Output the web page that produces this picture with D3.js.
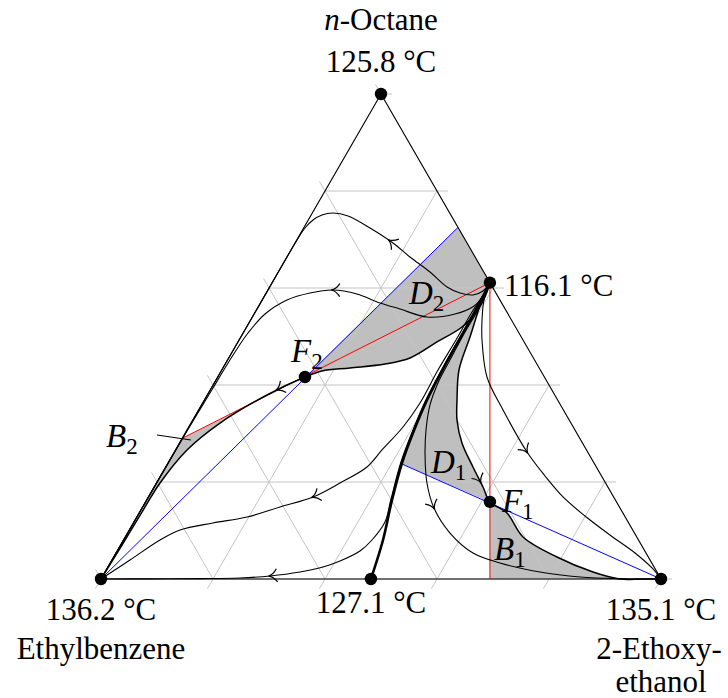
<!DOCTYPE html>
<html>
<head>
<meta charset="utf-8">
<script src="https://cdn.jsdelivr.net/npm/d3@7"></script>
<style>
  body { margin: 0; background: #fff; }
  svg { display: block; }
  text { font-family: "Liberation Serif", "Times New Roman", serif; fill: #000; }
</style>
</head>
<body>
<svg id="chart" width="728" height="698"></svg>
<script>
// Compositions are mole fractions [x(2-ethoxyethanol), x(n-octane)];
// ethylbenzene makes up the rest.

const gridFractions = [0, 0.2, 0.4, 0.6, 0.8, 1];

const componentNames = ["Ethylbenzene", "n-Octane", "2-Ethoxyethanol"];
const componentBoiling = ["136.2 °C", "125.8 °C", "135.1 °C"];
const componentComp = [[0, 0], [0, 1], [1, 0]];

const azeotropeBoiling = ["116.1 °C", "127.1 °C"];
const azeotropeComp = [[0.389, 0.611], [0.482, 0]];

const feedNames = ["F1", "F2"];
const feedComp = [[0.615, 0.159], [0.156, 0.4165]];

// mass-balance lines (blue) and distillate/bottoms lines (red)
const balanceLines = [
  [[0, 0], [0.275, 0.725]],
  [[1, 0], [0.419, 0.237]]
];
const productLines = [
  [[0, 0.29], [0.389, 0.611]],
  [[0.389, 0.611], [0.6945, 0]]
];

// distillation boundaries, listed in the direction of rising temperature
const boundaryAzeo = [[0.389, 0.611], [0.392, 0.5588], [0.3931, 0.5031], [0.3937, 0.4412],
  [0.3976, 0.3691], [0.4066, 0.301], [0.4179, 0.2392], [0.4382, 0.1629], [0.4634, 0.0804], [0.482, 0]];
const boundaryToEthoxy = [[0.389, 0.611], [0.3914, 0.5814], [0.4094, 0.499], [0.4238, 0.4309],
  [0.4512, 0.3691], [0.4718, 0.3278], [0.5044, 0.2804], [0.5488, 0.2309], [0.5873, 0.1897],
  [0.615, 0.159], [0.657, 0.1361], [0.7103, 0.0866], [0.7916, 0.0454], [0.8714, 0.0144],
  [0.9268, 0], [0.965, 0], [1, 0]];
const boundaryToEthyl = [[0.389, 0.611], [0.3934, 0.5918], [0.3959, 0.5546], [0.3848, 0.5196],
  [0.3557, 0.4887], [0.324, 0.4557], [0.2855, 0.4433], [0.2271, 0.4351], [0.1802, 0.4289],
  [0.156, 0.4165], [0.1067, 0.3794], [0.0517, 0.3216], [0.0206, 0.266], [0.0064, 0.1979],
  [0.0044, 0.1485], [0.0025, 0.0701], [0, 0]];

// residue curves
const residueA = [[0.389, 0.611], [0.3852, 0.5938], [0.3715, 0.5856], [0.3463, 0.5897],
  [0.3169, 0.602], [0.271, 0.633], [0.2198, 0.6639], [0.175, 0.6928], [0.1185, 0.7237],
  [0.0669, 0.7485], [0.037, 0.7546], [0.0193, 0.7505], [0.0085, 0.7402], [0.0024, 0.7237],
  [0.0008, 0.7052], [0.0005, 0.55], [0.0003, 0.35], [0.0002, 0.15], [0, 0]];
const residueB = [[0.389, 0.611], [0.3903, 0.5835], [0.3847, 0.5629], [0.3589, 0.5464],
  [0.312, 0.5402], [0.2555, 0.5567], [0.2137, 0.5691], [0.1633, 0.5876], [0.1164, 0.5959],
  [0.0784, 0.5897], [0.0445, 0.5753], [0.0197, 0.5464], [0.0089, 0.5072], [0.0053, 0.468],
  [0.0039, 0.435], [0.0031, 0.3938], [0.001, 0.3], [0.0005, 0.15], [0, 0]];
const residueC = [[0.389, 0.611], [0.3901, 0.5876], [0.3872, 0.5505], [0.3875, 0.4928],
  [0.3863, 0.4309], [0.3882, 0.3629], [0.3826, 0.3134], [0.3688, 0.266], [0.3595, 0.2309],
  [0.3278, 0.1979], [0.2941, 0.1691], [0.2454, 0.1485], [0.1968, 0.1278], [0.1423, 0.1155],
  [0.0906, 0.101], [0.0652, 0.0804], [0.0322, 0.0392], [0, 0]];
const residueD = [[0.389, 0.611], [0.3905, 0.5588], [0.3915, 0.5031], [0.3925, 0.4412],
  [0.3955, 0.3691], [0.4045, 0.301], [0.4155, 0.2392], [0.436, 0.1629], [0.4483, 0.1175],
  [0.4437, 0.0804], [0.4336, 0.0577], [0.4082, 0.0371], [0.384, 0.0247], [0.3482, 0.0144],
  [0.2987, 0.0062], [0.2472, 0.0021], [0.177, 0.0008], [0.0875, 0.0003], [0, 0]];
const residueE = [[0.389, 0.611], [0.3929, 0.5856], [0.3959, 0.5546], [0.3954, 0.5093],
  [0.3974, 0.4515], [0.3997, 0.4041], [0.4081, 0.3588], [0.4268, 0.3072], [0.4508, 0.2557],
  [0.4831, 0.1979], [0.5214, 0.1464], [0.5758, 0.0948], [0.6375, 0.0536], [0.696, 0.033],
  [0.7767, 0.0144], [0.8533, 0.0041], [0.927, 0.0005], [1, 0]];
const residueG = [[0.389, 0.611], [0.3963, 0.5753], [0.4134, 0.534], [0.434, 0.4928],
  [0.481, 0.4165], [0.5437, 0.3485], [0.6298, 0.2619], [0.6867, 0.2124], [0.7405, 0.1691],
  [0.7993, 0.1299], [0.8635, 0.0907], [0.9268, 0.0536], [0.9726, 0.0227], [1, 0]];

// where each curve carries its direction arrow
const arrowAt = [
  ["residueA", [0.1666, 0.699]],
  ["residueB", [0.1164, 0.5959]],
  ["residueC", [0.2941, 0.1691]],
  ["residueD", [0.2987, 0.0062]],
  ["residueE", [0.5214, 0.1464]],
  ["residueG", [0.6298, 0.2619]],
  ["boundaryToEthoxy", [0.5742, 0.1979]],
  ["boundaryToEthyl", [0.1195, 0.3897]]
];

// ---------- scales & projection ----------
const svg = d3.select("#chart");
const xs = d3.scaleLinear().domain([0, 1]).range([101, 661]);
const ys = d3.scaleLinear().domain([0, 1]).range([579, 94]);
const P = c => [xs(c[0] + c[1] / 2), ys(c[1])];

const smooth = d3.line().x(d => P(d)[0]).y(d => P(d)[1]).curve(d3.curveCatmullRom.alpha(0.5));
const straight = d3.line().x(d => P(d)[0]).y(d => P(d)[1]);
const region = parts => parts.map((p, i) => {
  const s = (p.smooth ? smooth : straight)(p.pts);
  return i ? s.replace(/^M/, "L") : s;
}).join("") + "Z";

const F1 = feedComp[0], F2 = feedComp[1], A1 = azeotropeComp[0];
const idx = (arr, c) => arr.findIndex(d => d[0] === c[0] && d[1] === c[1]);

// ---------- shaded regions ----------
const gEth = boundaryToEthyl, gEto = boundaryToEthoxy;
const iF2 = idx(gEth, F2), iF1 = idx(gEto, F1);
const iBal2 = idx(boundaryAzeo, [0.4179, 0.2392]);
const shade = "#bfbfbf";

const regions = [
  // D2
  region([{ pts: [F2, balanceLines[0][1], A1] }, { pts: gEth.slice(0, iF2 + 1), smooth: true }]),
  // B2
  region([{ pts: [productLines[0][0], F2] }, { pts: gEth.slice(iF2, iF2 + 6), smooth: true }, { pts: [[0, 0.1485]] }]),
  // D1
  region([{ pts: [balanceLines[1][1], F1] }, { pts: gEto.slice(0, iF1 + 1).reverse(), smooth: true },
          { pts: boundaryAzeo.slice(0, iBal2 + 1), smooth: true }]),
  // B1
  region([{ pts: [F1, productLines[1][1], [0.9268, 0]] }, { pts: gEto.slice(iF1, 15).reverse(), smooth: true }])
];
svg.append("g").selectAll("path").data(regions).join("path")
  .attr("d", d => d).attr("fill", shade).attr("stroke", "none");

// ---------- grid with ticks ----------
const tick = 11;
const unit = (a, b) => { const l = Math.hypot(b[0] - a[0], b[1] - a[1]); return [(b[0] - a[0]) / l, (b[1] - a[1]) / l]; };
const dirO = [1, 0];
const dirE = unit(P([1, 0]), P([0, 1]));
const dirX = unit(P([0, 1]), P([0, 0]));
const gridSegs = [];
gridFractions.forEach(f => {
  gridSegs.push([P([0, f]), P([1 - f, f]), dirO]);
  gridSegs.push([P([1 - f, 0]), P([0, 1 - f]), dirE]);
  gridSegs.push([P([f, 1 - f]), P([f, 0]), dirX]);
});
svg.append("g").selectAll("line").data(gridSegs).join("line")
  .attr("x1", d => d[0][0]).attr("y1", d => d[0][1])
  .attr("x2", d => d[1][0] + d[2][0] * tick).attr("y2", d => d[1][1] + d[2][1] * tick)
  .attr("stroke", "#c4c4c4").attr("stroke-width", 1);

// ---------- triangle ----------
svg.append("path").attr("d", straight(componentComp) + "Z")
  .attr("fill", "none").attr("stroke", "#000").attr("stroke-width", 1.1);

// ---------- balance & product lines ----------
svg.append("g").selectAll("path").data(balanceLines).join("path")
  .attr("d", straight).attr("stroke", "#0000ff").attr("stroke-width", 1).attr("fill", "none");
svg.append("g").selectAll("path").data(productLines).join("path")
  .attr("d", straight).attr("stroke", "#ff0000").attr("stroke-width", 1).attr("fill", "none");

// ---------- residue curves & boundaries ----------
const curves = {
  residueA, residueB, residueC, residueD, residueE, residueG,
  boundaryToEthoxy, boundaryToEthyl, boundaryAzeo
};
const widths = { boundaryToEthoxy: 1.5, boundaryToEthyl: 1.5, boundaryAzeo: 2.6 };
const nodes = {};
Object.entries(curves).forEach(([k, pts]) => {
  nodes[k] = svg.append("path").attr("d", smooth(pts))
    .attr("fill", "none").attr("stroke", "#000")
    .attr("stroke-width", widths[k] || 1.1).attr("stroke-linejoin", "round").node();
});

// direction arrows
const arrowShape = "M-7,-6.5 C-4,-2 -1.2,-0.5 1.5,0 C-1.2,0.5 -4,2 -7,6.5";
arrowAt.forEach(([k, c]) => {
  const node = nodes[k], L = node.getTotalLength(), t = P(c);
  let best = 0, bd = Infinity;
  for (let l = 0; l <= L; l += 0.5) {
    const p = node.getPointAtLength(l);
    const d = (p.x - t[0]) ** 2 + (p.y - t[1]) ** 2;
    if (d < bd) { bd = d; best = l; }
  }
  const p0 = node.getPointAtLength(best);
  const pa = node.getPointAtLength(Math.max(0, best - 2));
  const pb = node.getPointAtLength(Math.min(L, best + 2));
  const ang = Math.atan2(pb.y - pa.y, pb.x - pa.x) * 180 / Math.PI;
  svg.append("path").attr("d", arrowShape)
    .attr("transform", `translate(${p0.x},${p0.y}) rotate(${ang})`)
    .attr("fill", "none").attr("stroke", "#000").attr("stroke-width", 1.2);
});

// ---------- points ----------
const dots = componentComp.concat(azeotropeComp, feedComp);
svg.append("g").selectAll("circle").data(dots).join("circle")
  .attr("cx", d => P(d)[0]).attr("cy", d => P(d)[1]).attr("r", 6.2).attr("fill", "#000");

// ---------- labels ----------
const fs = 31, mfs = 33, sub = 23;
const txt = (x, y, s, anchor = "middle") =>
  svg.append("text").attr("x", x).attr("y", y).attr("font-size", fs).attr("text-anchor", anchor).text(s);

const apex = P(componentComp[1]);
const octane = svg.append("text").attr("x", apex[0]).attr("y", 30).attr("font-size", fs).attr("text-anchor", "middle");
octane.append("tspan").attr("font-style", "italic").text("n");
octane.append("tspan").text(componentNames[1].slice(1));
txt(apex[0], 72, componentBoiling[1]);

const eb = P(componentComp[0]);
txt(eb[0], 620, componentBoiling[0]);
txt(eb[0], 659, componentNames[0]);

const eo = P(componentComp[2]);
txt(eo[0], 620, componentBoiling[2]);
txt(eo[0] - 2, 659, "2-Ethoxy-");
txt(eo[0], 692, "ethanol");

const a1 = P(azeotropeComp[0]);
txt(a1[0] + 14, 296, azeotropeBoiling[0], "start");
const a2 = P(azeotropeComp[1]);
txt(a2[0], 613, azeotropeBoiling[1]);

// region and feed labels: italic letter with subscript
const sublabel = (x, y, letter, index) => {
  const t = svg.append("text").attr("x", x).attr("y", y).attr("font-size", mfs);
  t.append("tspan").attr("font-style", "italic").text(letter);
  t.append("tspan").attr("font-size", sub).attr("dy", 7).text(index);
};
const pF1 = P(F1), pF2 = P(F2);
sublabel(pF2[0] - 14, pF2[1] - 15, "F", "2");
sublabel(pF1[0] + 12, pF1[1] + 10, "F", "1");
sublabel(409, 304, "D", "2");
sublabel(431, 473, "D", "1");
sublabel(494, 560, "B", "1");
sublabel(106, 447, "B", "2");
svg.append("line").attr("x1", 157).attr("y1", 435).attr("x2", 191).attr("y2", 440)
  .attr("stroke", "#000").attr("stroke-width", 1.1);
</script>
</body>
</html>
